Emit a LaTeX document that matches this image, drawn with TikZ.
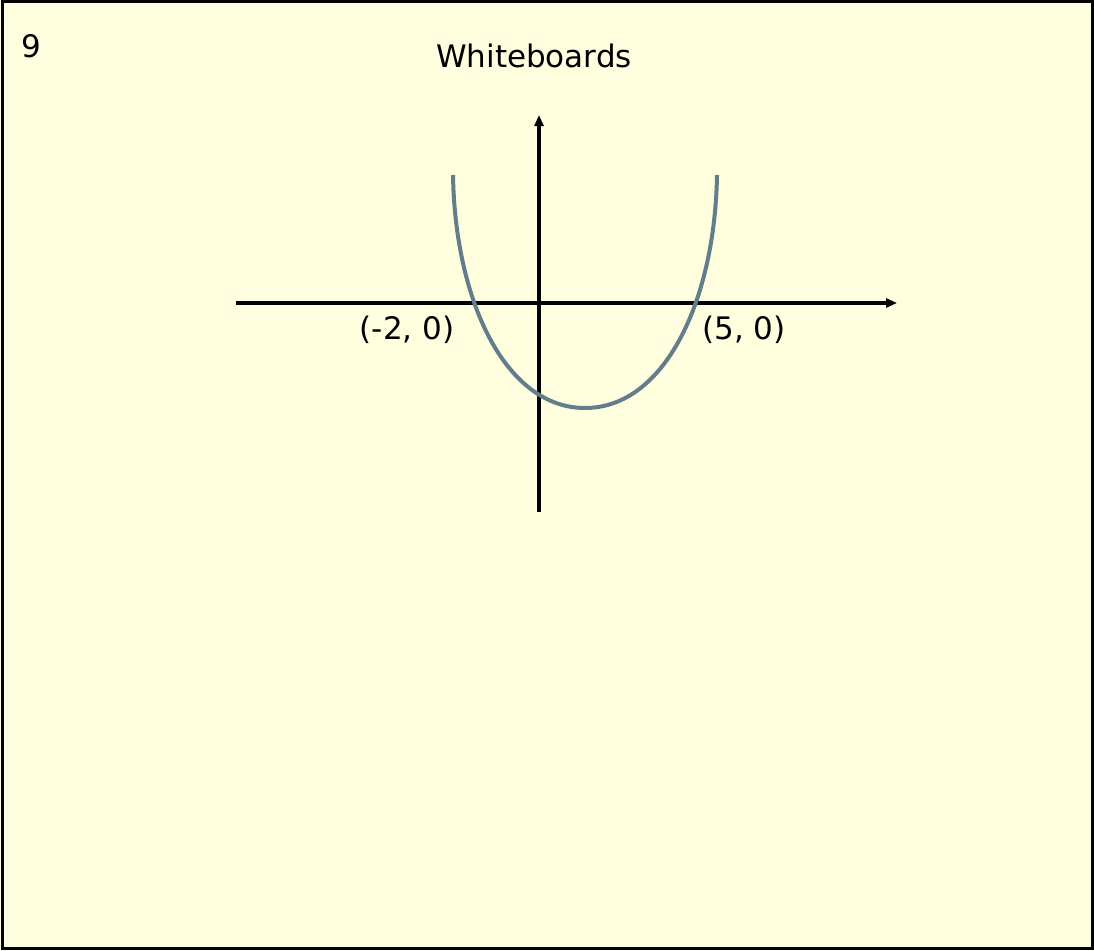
\documentclass[tikz,border=0pt]{standalone}
\usepackage{fontspec}
\setmainfont{DejaVu Sans}
\usepackage{tikz}
\usetikzlibrary{arrows.meta, positioning}
\definecolor{boardyellow}{RGB}{255,255,224}
\definecolor{curvegray}{RGB}{100,125,138}

\begin{document}
\begin{tikzpicture}[x=1pt, y=-1pt]
          \tikzset{label text/.style={font=\fontsize{31}{36}\selectfont},
                   axis/.style={line width=3.5pt, -{Triangle[length=11pt,width=9pt]}}}
          \fill[boardyellow] (0,0) rectangle (1094,950);
          \draw[line width=3pt] (2,2) rectangle (1092,948);

          \node[label text] (num) at (31,46) {9};
          \node[label text] (title) at (534,56) {Whiteboards};

          \coordinate (xl) at (236,303);
          \coordinate (xr) at (897,303);
          \coordinate (yb) at (539,512);
          \coordinate (yt) at (539,115);

          \draw[axis] (xl) -- (xr);
          \draw[axis] (yb) -- (yt);

          \coordinate (ctop) at (453,175);
          \coordinate (vert) at (585,408);
          \coordinate (dtop) at (717,175);
          \draw[curvegray, line width=4pt] (ctop) .. controls (455,300) and (505,408) .. (vert)
                .. controls (665,408) and (715,300) .. (dtop);

          \node[label text] (lroot) at (407,330) {(-2, 0)};
          \node[label text] (rroot) at (744,330) {(5, 0)};
        \end{tikzpicture}
\end{document}
